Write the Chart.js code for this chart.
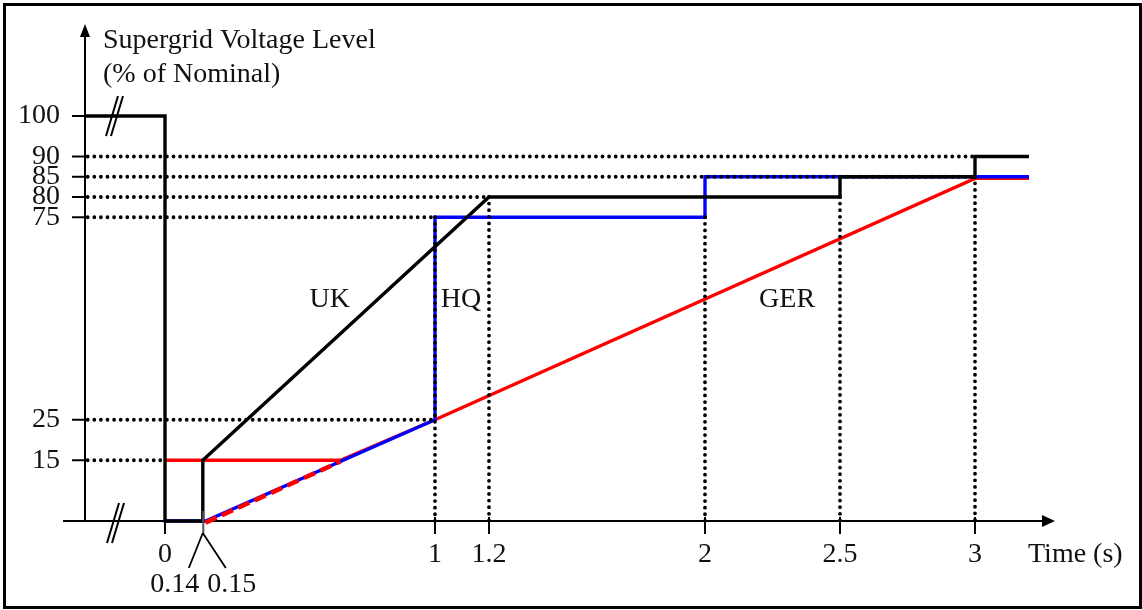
<!DOCTYPE html>
<html>
<head>
<meta charset="utf-8">
<script src="https://cdn.jsdelivr.net/npm/chart.js@4/dist/chart.umd.min.js"></script>
<style>
  html, body { margin: 0; padding: 0; background: #fff; }
  canvas { display: block; }
</style>
</head>
<body>
<canvas id="c" width="1142" height="610"></canvas>
<script>
// Fault ride-through voltage profiles: time (s) against supergrid voltage (% of nominal)
const ukTime  = [-0.2963, 0, 0, 0.14, 0.14, 1.2, 2.5, 2.5, 3, 3, 3.2];
const ukVolt  = [100, 100, 0, 0, 15, 80, 80, 85, 85, 90, 90];
const hqTime  = [0, 0.15, 1, 1, 2, 2, 3.2];
const hqVolt  = [0, 0, 25, 75, 75, 85, 85];
const gerTime = [0, 0.65, 1, 3, 3.2];
const gerVolt = [15, 15, 25, 84.6, 84.6];
const gerDashTime = [0.15, 0.65];
const gerDashVolt = [-0.4, 14.7];

// Reference levels and instants marked with dotted guides
const levelVolt  = [15, 25, 75, 80, 85, 90];
const levelUntil = [0, 1, 1, 1.2, 3, 3];
const instantTime = [1, 1.2, 2, 2.5, 3];
const instantFrom = [75, 80, 75, 80, 85];

// Axis ticks
const xTicks = [0, 1, 1.2, 2, 2.5, 3];
const xTickLabels = ['0', '1', '1.2', '2', '2.5', '3'];
const yTicks = [15, 25, 75, 80, 85, 90, 100];
const yTickLabels = ['15', '25', '75', '80', '85', '90', '100'];
const xDetailTicks = [0.14, 0.15];
const xDetailLabels = ['0.14', '0.15'];

const curveNames = ['UK', 'HQ', 'GER'];

const X_MIN = -0.2963, X_MAX = 3.2963, Y_MIN = 0, Y_MAX = 122.72;
const FONT = '28px "Liberation Serif", "Times New Roman", serif';

const pts = (xs, ys) => xs.map((x, i) => ({ x, y: ys[i] }));

const dotted = {
  borderColor: '#000', borderWidth: 3.8, borderDash: [0, 6.6],
  borderCapStyle: 'round', order: 1
};

const datasets = [
  { label: 'UK', data: pts(ukTime, ukVolt), borderColor: '#000', borderWidth: 3.4, order: 0 },
  { label: 'HQ', data: pts(hqTime, hqVolt), borderColor: '#0000ff', borderWidth: 3.4, order: 3 },
  { label: 'GER', data: pts(gerTime, gerVolt), borderColor: '#ff0000', borderWidth: 3.4, order: 4 },
  { label: 'GER ramp', data: pts(gerDashTime, gerDashVolt), borderColor: '#ff0000', borderWidth: 4.5,
    borderDash: [12, 6], order: 2 }
];
levelVolt.forEach((v, i) => datasets.push(Object.assign({ label: 'level ' + v,
  data: pts([X_MIN + 0.01, levelUntil[i]], [v, v]) }, dotted)));
instantTime.forEach((t, i) => datasets.push(Object.assign({ label: 't ' + t,
  data: pts([t, t], [instantFrom[i], 0]) }, dotted)));
datasets.forEach(d => {
  d.pointRadius = 0; d.fill = false; d.clip = false; d.tension = 0;
  d.borderJoinStyle = 'miter';
});

// Axes, arrows, ticks, break marks and every text item
const diagramPlugin = {
  id: 'diagram',
  beforeDatasetsDraw(chart) {
    const { ctx, scales: { x, y } } = chart;
    const x0 = x.getPixelForValue(X_MIN);
    const y0 = y.getPixelForValue(0);
    const yTop = y.getPixelForValue(Y_MAX);
    const xEnd = x.getPixelForValue(X_MAX);
    ctx.save();
    ctx.strokeStyle = '#000';
    ctx.fillStyle = '#000';
    ctx.lineWidth = 2;
    ctx.lineCap = 'butt';
    // vertical axis with arrow
    ctx.beginPath();
    ctx.moveTo(x0, y0);
    ctx.lineTo(x0, yTop + 10);
    ctx.stroke();
    ctx.beginPath();
    ctx.moveTo(x0, yTop);
    ctx.lineTo(x0 - 5, yTop + 13);
    ctx.lineTo(x0 + 5, yTop + 13);
    ctx.closePath();
    ctx.fill();
    // horizontal axis with arrow
    ctx.beginPath();
    ctx.moveTo(x0 - 22, y0);
    ctx.lineTo(xEnd - 8, y0);
    ctx.stroke();
    ctx.beginPath();
    ctx.moveTo(xEnd, y0);
    ctx.lineTo(xEnd - 13, y0 - 6);
    ctx.lineTo(xEnd - 13, y0 + 6);
    ctx.closePath();
    ctx.fill();
    // y ticks
    yTicks.forEach(v => {
      const py = y.getPixelForValue(v);
      ctx.beginPath();
      ctx.moveTo(x0 - 13, py);
      ctx.lineTo(x0, py);
      ctx.stroke();
    });
    // x ticks
    xTicks.forEach(t => {
      const px = x.getPixelForValue(t);
      ctx.beginPath();
      ctx.moveTo(px, y0 - (t === 0 ? 0 : 4));
      ctx.lineTo(px, y0 + 13);
      ctx.stroke();
    });
    ctx.restore();
  },
  afterDatasetsDraw(chart) {
    const { ctx, scales: { x, y } } = chart;
    const x0 = x.getPixelForValue(X_MIN);
    const y0 = y.getPixelForValue(0);
    const xEnd = x.getPixelForValue(X_MAX);
    ctx.save();
    ctx.strokeStyle = '#000';
    ctx.fillStyle = '#000';
    ctx.lineWidth = 2;
    // axis break marks
    const brk = (bx, by) => {
      [0, 5].forEach(off => {
        ctx.beginPath();
        ctx.moveTo(bx + off - 6, by + 20);
        ctx.lineTo(bx + off + 6, by - 20);
        ctx.stroke();
      });
    };
    brk(x0 + 28, y0 + 2);
    brk(x0 + 27, y.getPixelForValue(100));

    // detail ticks at 0.14 / 0.15 with leader lines
    const pd = x.getPixelForValue(xDetailTicks[0]);
    ctx.strokeStyle = '#555';
    ctx.beginPath();
    ctx.moveTo(pd + 0.5, y0 - 10);
    ctx.lineTo(pd + 0.5, y0 + 12);
    ctx.stroke();
    ctx.strokeStyle = '#000';
    ctx.lineWidth = 1.8;
    ctx.beginPath();
    ctx.moveTo(pd, y0 + 12);
    ctx.lineTo(pd - 14, y0 + 47);
    ctx.moveTo(pd, y0 + 12);
    ctx.lineTo(pd + 23, y0 + 47);
    ctx.stroke();

    // text
    ctx.font = FONT;
    ctx.fillStyle = '#111';
    ctx.textAlign = 'right';
    ctx.textBaseline = 'middle';
    yTicks.forEach((v, i) => ctx.fillText(yTickLabels[i], x0 - 25, y.getPixelForValue(v)));

    ctx.textAlign = 'center';
    ctx.textBaseline = 'alphabetic';
    xTicks.forEach((t, i) => ctx.fillText(xTickLabels[i], x.getPixelForValue(t), y0 + 41));
    ctx.fillText(xDetailLabels[0], pd - 28, y0 + 71);
    ctx.fillText(xDetailLabels[1], pd + 29, y0 + 71);

    ctx.textAlign = 'left';
    ctx.fillText('Time (s)', xEnd - 27, y0 + 41);
    ctx.fillText('Supergrid Voltage Level', x0 + 18, 48);
    ctx.fillText('(% of Nominal)', x0 + 18, 82);

    // curve names
    const namePos = [[0.61, 55], [1.096, 55], [2.304, 55]];
    ctx.textAlign = 'center';
    curveNames.forEach((n, i) =>
      ctx.fillText(n, x.getPixelForValue(namePos[i][0]), y.getPixelForValue(namePos[i][1]) + 9));

    // frame
    ctx.lineWidth = 3;
    ctx.strokeStyle = '#000';
    ctx.strokeRect(4.5, 4.5, 1136, 603);
    ctx.restore();
  }
};

new Chart(document.getElementById('c'), {
  type: 'line',
  data: { datasets },
  options: {
    responsive: false,
    devicePixelRatio: 1,
    animation: false,
    layout: { padding: { left: 85, right: 87, top: 24, bottom: 89 } },
    plugins: { legend: { display: false }, tooltip: { enabled: false } },
    scales: {
      x: { type: 'linear', min: X_MIN, max: X_MAX, display: false },
      y: { type: 'linear', min: Y_MIN, max: Y_MAX, display: false }
    }
  },
  plugins: [diagramPlugin]
});
</script>
</body>
</html>
